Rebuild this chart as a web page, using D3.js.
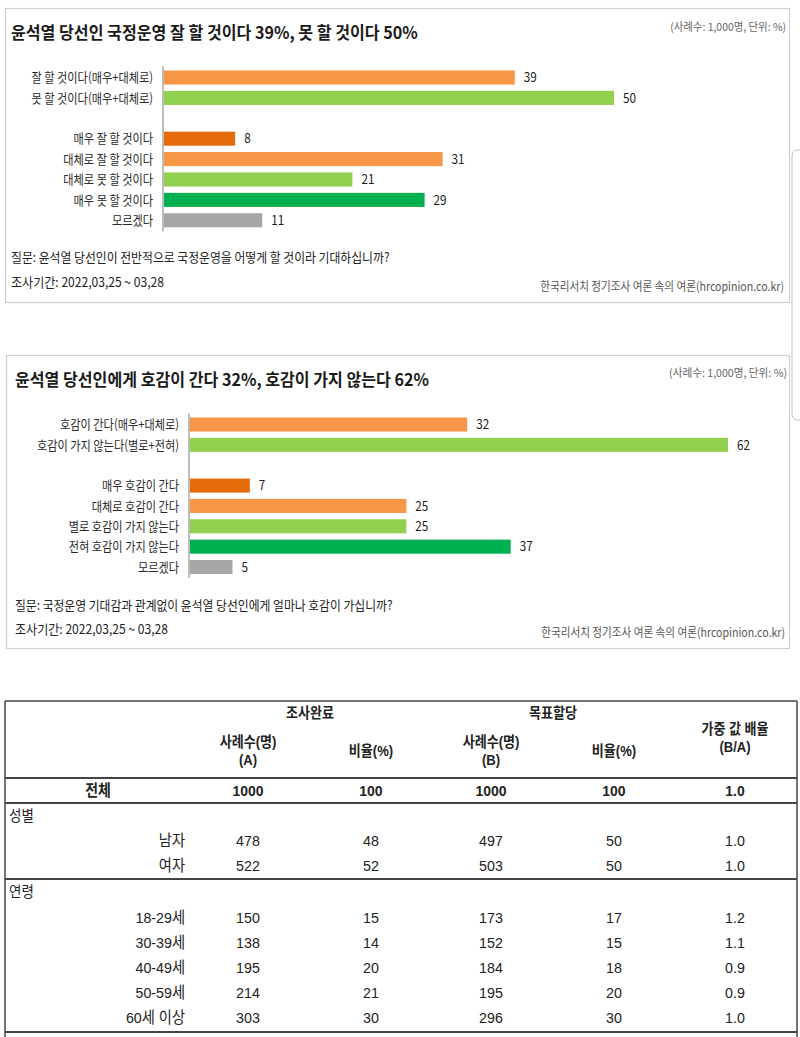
<!DOCTYPE html>
<html>
<head>
<meta charset="utf-8">
<script src="https://cdn.jsdelivr.net/npm/d3@7"></script>
<style>
  html, body { margin: 0; padding: 0; background: #fff; }
  svg { display: block; font-family: "Noto Sans CJK KR", "Noto Sans", sans-serif; }
  .tbl text { font-family: "Liberation Sans", "Noto Sans CJK KR", sans-serif; }
</style>
</head>
<body>
<script>
// ---- chart 1: 국정운영 기대
const c1Title = '윤석열 당선인 국정운영 잘 할 것이다 39%, 못 할 것이다 50%';
const c1Labels = ['잘 할 것이다(매우+대체로)', '못 할 것이다(매우+대체로)', '매우 잘 할 것이다',
  '대체로 잘 할 것이다', '대체로 못 할 것이다', '매우 못 할 것이다', '모르겠다'];
const c1Values = [39, 50, 8, 31, 21, 29, 11];
const c1Question = '질문: 윤석열 당선인이 전반적으로 국정운영을 어떻게 할 것이라 기대하십니까?';

// ---- chart 2: 호감도
const c2Title = '윤석열 당선인에게 호감이 간다 32%, 호감이 가지 않는다 62%';
const c2Labels = ['호감이 간다(매우+대체로)', '호감이 가지 않는다(별로+전혀)', '매우 호감이 간다',
  '대체로 호감이 간다', '별로 호감이 가지 않는다', '전혀 호감이 가지 않는다', '모르겠다'];
const c2Values = [32, 62, 7, 25, 25, 37, 5];
const c2Question = '질문: 국정운영 기대감과 관계없이 윤석열 당선인에게 얼마나 호감이 가십니까?';

const sampleNote = '(사례수: 1,000명, 단위: %)';
const periodText = '조사기간: 2022,03,25 ~ 03,28';
const sourceText = '한국리서치 정기조사 여론 속의 여론(hrcopinion.co.kr)';

// ---- weighting table
const groupHeaders = ['조사완료', '목표할당'];
const colHeaders = [['사례수(명)', '(A)'], ['비율(%)'], ['사례수(명)', '(B)'], ['비율(%)'], ['가중 값 배율', '(B/A)']];
const totalRow = ['전체', '1000', '100', '1000', '100', '1.0'];
const genderLabels = ['남자', '여자'];
const genderRows = [
  ['478', '48', '497', '50', '1.0'],
  ['522', '52', '503', '50', '1.0'],
];
const ageLabels = ['18-29세', '30-39세', '40-49세', '50-59세', '60세 이상'];
const ageRows = [
  ['150', '15', '173', '17', '1.2'],
  ['138', '14', '152', '15', '1.1'],
  ['195', '20', '184', '18', '0.9'],
  ['214', '21', '195', '20', '0.9'],
  ['303', '30', '296', '30', '1.0'],
];
const sectionLabels = ['성별', '연령', '지역'];

// bar colours by row
const barColors = ['#F79646', '#92D050', '#E46C0A', '#F79646', '#92D050', '#00B050', '#A6A6A6'];

const svg = d3.select('body').append('svg').attr('width', 800).attr('height', 1037);

// narrow the text horizontally (the source uses a condensed gothic face)
function narrow(node, k) {
  const s = d3.select(node);
  const x = +s.attr('x') || 0, y = +s.attr('y') || 0;
  s.attr('x', 0).attr('y', 0).attr('transform', `translate(${x},${y}) scale(${k},1)`);
}
function squeeze(sel, k) {
  sel.each(function () { narrow(this, k); });
}
function fit(sel, w) {
  sel.each(function () { narrow(this, w / this.getComputedTextLength()); });
}

function drawChart(cfg) {
  const g = svg.append('g');
  g.append('rect')
    .attr('x', cfg.box[0] + 0.5).attr('y', cfg.box[1] + 0.5)
    .attr('width', cfg.box[2]).attr('height', cfg.box[3])
    .attr('fill', '#fff').attr('stroke', '#cfcfcf').attr('stroke-width', 1.2);

  g.append('text').text(cfg.title)
    .attr('x', cfg.left).attr('y', cfg.titleY).attr('dy', '0.36em')
    .attr('font-size', 17).attr('font-weight', 700).attr('fill', '#1a1a1a')
    .call(fit, cfg.titleW);

  g.append('text').text(sampleNote)
    .attr('x', cfg.right).attr('y', cfg.noteY).attr('dy', '0.36em')
    .attr('text-anchor', 'end').attr('font-size', 11).attr('fill', '#666')
    .call(fit, cfg.noteW);

  const slots = cfg.labels.map((d, i) => (i < 2 ? i : i + 1));
  const y = d3.scaleBand().domain(d3.range(8)).range(cfg.yRange)
    .paddingInner(0.31).paddingOuter(0.2);
  const x = d3.scaleLinear().domain([0, d3.max(cfg.values)]).range([cfg.axisX, cfg.maxX]);

  g.selectAll('rect.bar').data(cfg.values).join('rect')
    .attr('class', 'bar')
    .attr('x', x(0) + 1)
    .attr('y', (d, i) => y(slots[i]))
    .attr('width', d => x(d) - x(0) - 1)
    .attr('height', y.bandwidth())
    .attr('fill', (d, i) => barColors[i]);

  g.append('line')
    .attr('x1', x(0)).attr('x2', x(0))
    .attr('y1', cfg.yRange[0]).attr('y2', cfg.yRange[1])
    .attr('stroke', '#bdbdbd').attr('stroke-width', 2);

  g.selectAll('text.lab').data(cfg.labels).join('text')
    .attr('class', 'lab')
    .attr('x', x(0) - 10)
    .attr('y', (d, i) => y(slots[i]) + y.bandwidth() / 2)
    .attr('dy', '0.36em')
    .attr('text-anchor', 'end').attr('font-size', 13).attr('fill', '#2a2a2a')
    .text(d => d)
    .call(squeeze, 0.86);

  g.selectAll('text.val').data(cfg.values).join('text')
    .attr('class', 'val')
    .attr('x', d => x(d) + 9)
    .attr('y', (d, i) => y(slots[i]) + y.bandwidth() / 2)
    .attr('dy', '0.36em')
    .attr('font-size', 13).attr('fill', '#1a1a1a')
    .text(d => d)
    .call(squeeze, 0.9);

  g.append('text').text(cfg.question)
    .attr('x', cfg.left).attr('y', cfg.qY).attr('dy', '0.36em')
    .attr('font-size', 13).attr('fill', '#222')
    .call(fit, cfg.qW);

  g.append('text').text(periodText)
    .attr('x', cfg.left).attr('y', cfg.dateY).attr('dy', '0.36em')
    .attr('font-size', 13).attr('fill', '#222')
    .call(fit, 153);

  g.append('text').text(sourceText)
    .attr('x', cfg.right - 2).attr('y', cfg.srcY).attr('dy', '0.36em')
    .attr('text-anchor', 'end').attr('font-size', 12).attr('fill', '#555')
    .call(fit, 244);
}

drawChart({
  box: [5, 8, 784, 294], title: c1Title, labels: c1Labels, values: c1Values, question: c1Question,
  left: 11, right: 786, titleY: 33, titleW: 407, noteY: 27, noteW: 116,
  yRange: [66.4, 231.4], axisX: 163, maxX: 614,
  qY: 257, qW: 379, dateY: 282, srcY: 287,
});

drawChart({
  box: [6, 355, 783, 293], title: c2Title, labels: c2Labels, values: c2Values, question: c2Question,
  left: 15, right: 787, titleY: 380, titleW: 414, noteY: 373, noteW: 118,
  yRange: [413.4, 578.1], axisX: 189, maxX: 728,
  qY: 605, qW: 378, dateY: 629, srcY: 633,
});

// thin overlay handle on the right edge of the screenshot
svg.append('path')
  .attr('d', 'M800,150 H797 Q792,150 792,157 V413 Q792,420 797,420 H800')
  .attr('fill', '#fff').attr('stroke', '#c4c4c4').attr('stroke-width', 1);

// ---- table
const t = svg.append('g').attr('class', 'tbl');
const colX = [248, 371, 491, 614, 735];
const tblL = 5, tblR = 797;
const lineColor = '#444';

[701, 778, 803, 879, 1032].forEach((ly, i) => {
  t.append('line').attr('x1', tblL).attr('x2', tblR).attr('y1', ly).attr('y2', ly)
    .attr('stroke', lineColor).attr('stroke-width', i === 0 ? 1.6 : 2);
});
[tblL, tblR].forEach(lx => {
  t.append('line').attr('x1', lx).attr('x2', lx).attr('y1', 701).attr('y2', 1037)
    .attr('stroke', lineColor).attr('stroke-width', 1.5);
});

t.selectAll('text.grp').data(groupHeaders).join('text')
  .attr('class', 'grp')
  .attr('x', (d, i) => (i === 0 ? 310 : 553)).attr('y', 713).attr('dy', '0.36em')
  .attr('text-anchor', 'middle').attr('font-size', 14.5).attr('font-weight', 700).attr('fill', '#222')
  .text(d => d).call(squeeze, 0.9);

colHeaders.forEach((lines, i) => {
  const cy = i === 4 ? 738 : 751;
  lines.forEach((s, j) => {
    t.append('text').text(s)
      .attr('x', colX[i]).attr('y', lines.length === 1 ? cy : cy - 9 + j * 18).attr('dy', '0.36em')
      .attr('text-anchor', 'middle').attr('font-size', 14.5).attr('font-weight', 700).attr('fill', '#222')
      .call(squeeze, 0.9);
  });
});

// 전체 row
t.selectAll('text.tot').data(totalRow).join('text')
  .attr('class', 'tot')
  .attr('x', (d, i) => (i === 0 ? 98 : colX[i - 1])).attr('y', 790).attr('dy', '0.36em')
  .attr('text-anchor', 'middle').attr('font-size', 15.5).attr('font-weight', 700).attr('fill', '#222')
  .text(d => d).call(squeeze, 0.9);

function section(label, ly, rowLabels, rows, y0) {
  t.append('text').text(label)
    .attr('x', 9).attr('y', ly).attr('dy', '0.36em')
    .attr('font-size', 15).attr('fill', '#222').call(squeeze, 0.9);
  const ry = d3.scaleLinear().domain([0, 1]).range([y0, y0 + 25.2]);
  t.append('g').selectAll('text').data(rowLabels).join('text')
    .attr('x', 185).attr('y', (d, i) => ry(i)).attr('dy', '0.36em')
    .attr('text-anchor', 'end').attr('font-size', 15.5).attr('fill', '#222')
    .text(d => d).call(squeeze, 0.92);
  rows.forEach((r, i) => {
    t.append('g').selectAll('text').data(r).join('text')
      .attr('x', (d, j) => colX[j]).attr('y', ry(i)).attr('dy', '0.36em')
      .attr('text-anchor', 'middle').attr('font-size', 15.5).attr('fill', '#222')
      .text(d => d).call(squeeze, 0.92);
  });
}
section(sectionLabels[0], 816, genderLabels, genderRows, 840);
section(sectionLabels[1], 892, ageLabels, ageRows, 917);

// next section, cut off by the bottom edge as in the screenshot
t.append('text').text(sectionLabels[2])
  .attr('x', 9).attr('y', 1047).attr('dy', '0.36em')
  .attr('font-size', 15).attr('fill', '#222');
</script>
</body>
</html>
